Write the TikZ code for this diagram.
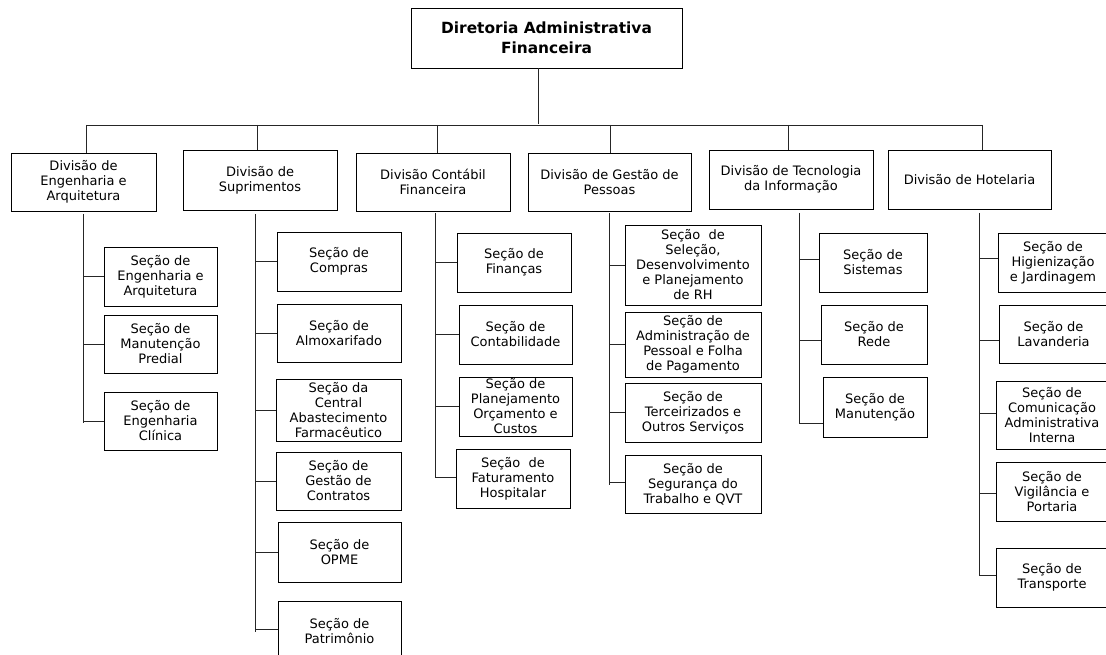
\documentclass[tikz,border=0pt]{standalone}
\usepackage{fontspec}
\setmainfont{DejaVu Sans}
\tikzset{
  box/.style={draw=black, line width=0.85pt, inner sep=0pt, align=center,
    font=\fontsize{13}{15}\selectfont},
  topbox/.style={box, font=\fontsize{15.4}{20}\selectfont\bfseries},
  conn/.style={draw=black!85, line width=0.85pt}
}
\newcommand\bx[7][box]{\node[#1,minimum width={#5pt-#3pt},minimum height={#6pt-#4pt}] (#2) at ({(#3+#5)/2},{(#4+#6)/2}) {#7};}
\begin{document}
\begin{tikzpicture}[x=1pt,y=-1pt]
\useasboundingbox (0,0) rectangle (1106,655);
\clip (0,0) rectangle (1106,655);
\fill[white] (0,0) rectangle (1106,655);
% top
\bx[topbox]{top}{411}{8}{682}{68}{Diretoria Administrativa\\Financeira}
% divisions
\bx{dv1}{11}{153}{156}{211}{Divisão de\\Engenharia e\\Arquitetura}
\bx{dv2}{183}{150}{337}{210}{Divisão de\\Suprimentos}
\bx{dv3}{356}{153}{510}{211}{Divisão Contábil\\Financeira}
\bx{dv4}{528}{153}{691}{211}{Divisão de Gestão de\\Pessoas}
\bx{dv5}{709}{150}{873}{209}{Divisão de Tecnologia\\da Informação}
\bx{dv6}{888}{150}{1051}{209}{Divisão de Hotelaria}
% Engenharia sections
\bx{e1}{104}{247}{217}{306}{Seção de\\Engenharia e\\Arquitetura}
\bx{e2}{104}{315}{217}{373}{Seção de\\Manutenção\\Predial}
\bx{e3}{104}{392}{217}{450}{Seção de\\Engenharia\\Clínica}
% Suprimentos sections
\bx{s1}{277}{232}{401}{291}{Seção de\\Compras}
\bx{s2}{277}{304}{401}{362}{Seção de\\Almoxarifado}
\bx{s3}{276}{379}{401}{441}{Seção da\\Central\\Abastecimento\\Farmacêutico}
\bx{s4}{276}{452}{401}{510}{Seção de\\Gestão de\\Contratos}
\bx{s5}{278}{522}{401}{582}{Seção de\\OPME}
\bx{s6}{278}{601}{401}{661}{Seção de\\Patrimônio}
% Contabil sections
\bx{c1}{457}{233}{571}{292}{Seção de\\Finanças}
\bx{c2}{459}{305}{572}{364}{Seção de\\Contabilidade}
\bx{c3}{459}{377}{572}{436}{Seção de\\Planejamento\\Orçamento e\\Custos}
\bx{c4}{456}{449}{570}{508}{Seção~ de\\Faturamento\\Hospitalar}
% Gestao sections
\bx{g1}{625}{225}{761}{305}{Seção~ de\\Seleção,\\Desenvolvimento\\e Planejamento\\de RH}
\bx{g2}{625}{312}{761}{377}{Seção de\\Administração de\\Pessoal e Folha\\de Pagamento}
\bx{g3}{625}{383}{761}{442}{Seção de\\Terceirizados e\\Outros Serviços}
\bx{g4}{625}{455}{761}{513}{Seção de\\Segurança do\\Trabalho e QVT}
% TI sections
\bx{t1}{819}{233}{927}{292}{Seção de\\Sistemas}
\bx{t2}{821}{305}{927}{364}{Seção de\\Rede}
\bx{t3}{823}{377}{927}{437}{Seção de\\Manutenção}
% Hotelaria sections
\bx{h1}{998}{233}{1108}{292}{Seção de\\Higienização\\e Jardinagem}
\bx{h2}{999}{305}{1108}{363}{Seção de\\Lavanderia}
\bx{h3}{996}{381}{1108}{449}{Seção de\\Comunicação\\Administrativa\\Interna}
\bx{h4}{996}{462}{1108}{521}{Seção de\\Vigilância e\\Portaria}
\bx{h5}{996}{548}{1108}{607}{Seção de\\Transporte}
% top connectors
\coordinate (tv) at (538,124);
\coordinate (busL) at (86,125);
\coordinate (busR) at (982,125);
\draw[conn] (tv |- top.south) -- (tv);
\draw[conn] (busL) -- (busR);
\coordinate (d1) at (86,125);
\coordinate (d2) at (257,125);
\coordinate (d3) at (437,125);
\coordinate (d4) at (610,125);
\coordinate (d5) at (788,125);
\coordinate (d6) at (982,125);
\draw[conn] (d1) -- (d1 |- dv1.north);
\draw[conn] (d2) -- (d2 |- dv2.north);
\draw[conn] (d3) -- (d3 |- dv3.north);
\draw[conn] (d4) -- (d4 |- dv4.north);
\draw[conn] (d5) -- (d5 |- dv5.north);
\draw[conn] (d6) -- (d6 |- dv6.north);
% spines
\coordinate (p1a) at (83,214);  \coordinate (p1b) at (83,423);
\coordinate (p2a) at (255,214); \coordinate (p2b) at (255,632);
\coordinate (p3a) at (435,213); \coordinate (p3b) at (435,477);
\coordinate (p4a) at (609,213); \coordinate (p4b) at (609,485);
\coordinate (p5a) at (799,213); \coordinate (p5b) at (799,423);
\coordinate (p6a) at (979,213); \coordinate (p6b) at (979,575);
\foreach \i in {1,...,6}{\draw[conn] (p\i a) -- (p\i b);}
% branches
\foreach \n in {e1,e2,e3}{\draw[conn] (p1a |- \n.west) -- (\n.west);}
\foreach \n in {s1,s2,s3,s4,s5}{\draw[conn] (p2a |- \n.west) -- (\n.west);}
\draw[conn] (p2a |- 0,629) -- (s6.west |- 0,629);
\foreach \n in {c1,c2,c3}{\draw[conn] (p3a |- \n.west) -- (\n.west);}
\draw[conn] (p3b) -- (p3b -| c4.west);
\foreach \n in {g1,g2,g3}{\draw[conn] (p4a |- \n.west) -- (\n.west);}
\draw[conn] (p4a |- 0,482) -- (g4.west |- 0,482);
\draw[conn] (p5a |- 0,259) -- (t1.west |- 0,259);
\draw[conn] (p5a |- 0,340) -- (t2.west |- 0,340);
\draw[conn] (p5b) -- (p5b -| t3.west);
\draw[conn] (p6a |- 0,258) -- (h1.west |- 0,258);
\draw[conn] (p6a |- 0,340) -- (h2.west |- 0,340);
\draw[conn] (p6a |- 0,413) -- (h3.west |- 0,413);
\draw[conn] (p6a |- 0,493) -- (h4.west |- 0,493);
\draw[conn] (p6b) -- (p6b -| h5.west);
\end{tikzpicture}
\end{document}
